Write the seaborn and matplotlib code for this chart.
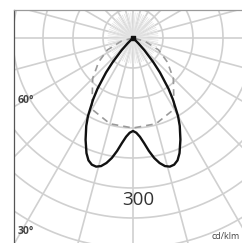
import numpy as np
import pandas as pd
import matplotlib
matplotlib.use("Agg")
import matplotlib.pyplot as plt
import seaborn as sns

# luminous intensity distribution (cd/klm)
gamma_c0 = [0, 2, 4, 6, 8, 10, 12, 14, 16, 18, 20, 22, 25, 28, 30, 33, 35,
            38, 40, 43, 45, 48, 50]
cd_c0 = [155, 158, 165, 176, 190, 203, 213, 220, 223, 222, 217, 207, 187,
         166, 150, 122, 103, 73, 53, 28, 13, 3, 0]
gamma_c90 = [0, 15, 30, 45, 55, 65, 75, 90]
cd_c90 = [150, 148, 137, 95, 70, 47, 20, 0]

ring_values = [50, 100, 150, 200, 250, 300, 350, 400, 450]
spoke_major = list(range(0, 360, 15))
spoke_minor = list(range(0, 360, 5))
ring_label = "300"
angle_labels = ["60°", "30°"]
unit_label = "cd/klm"


def to_xy(gamma, cd):
    # mirror the half curve to the other side, gamma measured from nadir
    g = np.array(gamma, dtype=float)
    c = np.array(cd, dtype=float)
    g = np.concatenate([-g[::-1], g[1:]])
    c = np.concatenate([c[::-1], c[1:]])
    rad = np.deg2rad(g)
    return pd.DataFrame({"x": c * np.sin(rad), "y": -c * np.cos(rad)})


sns.set_style("white")
plt.rcParams["font.family"] = ["Open Sans", "DejaVu Sans"]

fig = plt.figure(figsize=(2.42, 2.43), dpi=100)
ax = fig.add_axes([14 / 242, 0, 228 / 242, 233 / 243])

grid_col = "#d0d0d0"
t = np.linspace(0, 2 * np.pi, 361)
for r in ring_values:
    ax.plot(r * np.cos(t), r * np.sin(t), color=grid_col, lw=1.2, zorder=1)
for a in spoke_major:
    ax.plot([0, 460 * np.sin(np.deg2rad(a))], [0, -460 * np.cos(np.deg2rad(a))],
            color=grid_col, lw=1.2, zorder=1)
for a in spoke_minor:
    ax.plot([0, 42 * np.sin(np.deg2rad(a))], [0, -42 * np.cos(np.deg2rad(a))],
            color="#e4e4e4", lw=0.6, zorder=1)

c90 = to_xy(gamma_c90, cd_c90)
sns.lineplot(data=c90, x="x", y="y", sort=False, estimator=None, ax=ax,
             color="#9a9a9a", lw=1.2, linestyle=(0, (4, 3)), zorder=2)
c0 = to_xy(gamma_c0, cd_c0)
sns.lineplot(data=c0, x="x", y="y", sort=False, estimator=None, ax=ax,
             color="#111111", lw=1.7, zorder=3)
ax.scatter([0], [0], marker="s", s=12, color="#111111", zorder=4)

ax.text(9, -270, ring_label, ha="center", va="center", fontsize=13.5,
        color="#333333")
ax.text(-193, -104, angle_labels[0], ha="left", va="center", fontsize=7.5,
        color="#444444", fontweight="bold")
ax.text(-192, -323, angle_labels[1], ha="left", va="center", fontsize=7.5,
        color="#444444", fontweight="bold")
ax.text(131, -339, unit_label, ha="left", va="bottom", fontsize=6.5,
        color="#444444")

ax.set_xlim((14 - 133) * 5 / 3, (242 - 133) * 5 / 3)
ax.set_ylim(-(243 - 38) * 5 / 3, (38 - 10) * 5 / 3)
ax.set_xlabel("")
ax.set_ylabel("")
ax.set_xticks([])
ax.set_yticks([])
for s in ["right", "bottom"]:
    ax.spines[s].set_visible(False)
ax.spines["left"].set_color("#555555")
ax.spines["left"].set_linewidth(0.9)
ax.spines["top"].set_color("#9a9a9a")
ax.spines["top"].set_linewidth(0.9)

fig.savefig("out.png", dpi=100)
